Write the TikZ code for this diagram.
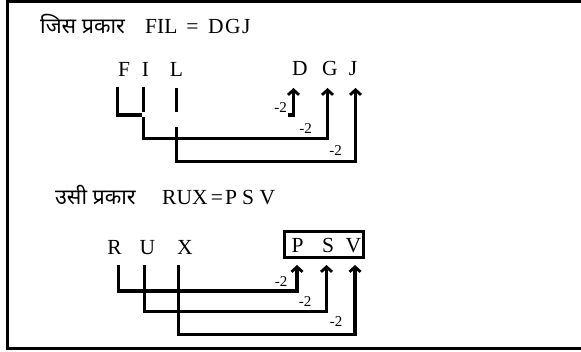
\documentclass[tikz,border=0pt]{standalone}
\usepackage{fontspec}
\setmainfont{Liberation Serif}
\newfontfamily\deva[Script=Devanagari]{Noto Sans}
\usetikzlibrary{arrows.meta}
\begin{document}
\begin{tikzpicture}[x=1pt,y=-1pt,
  conn/.style={line width=3.2pt, line cap=butt, line join=miter},
  arr/.style={conn, -{Straight Barb[length=5pt,width=11pt,line width=2.8pt]}},
  lett/.style={font=\fontsize{21.5}{21.5}\selectfont, inner sep=0pt, anchor=base},
  lbl/.style={font=\fontsize{15}{15}\selectfont, inner sep=0pt},
  ttl/.style={font=\fontsize{21.5}{21.5}\selectfont, inner sep=0pt, anchor=base west},
  dttl/.style={font=\deva\fontsize{21.5}{21.5}\selectfont, inner sep=0pt, anchor=base west},
]
\path[use as bounding box] (0,0) rectangle (581,352);
\coordinate (c1) at (581,1.5);
\coordinate (c2) at (7.5,1.5);
\coordinate (c3) at (7.5,348.5);
\coordinate (c4) at (581,348.5);
\draw[line width=3pt, line join=miter] (c1) -- (c2) -- (c3) -- (c4);

% ---- title 1
\node[dttl] (t1a) at (40,34) {जिस प्रकार};
\node[ttl] (t1b) at (145,34) {FIL};
\node[lett] (t1c) at (192.5,34) {=};
\node[ttl] (t1d) at (208,34) {D\kern1.5pt G\kern1.5pt J};

% ---- row 1 letters
\node[lett] (F) at (124,77) {F};
\node[lett] (I) at (145.5,77) {I};
\node[lett] (L) at (176.5,77) {L};
\node[lett] (D) at (300,75.5) {D};
\node[lett] (G) at (330,75.5) {G};
\node[lett] (J) at (353,75.5) {J};

% row 1 connectors
\coordinate (f1) at (117.5,87);
\coordinate (f2) at (117.5,115);
\coordinate (f3) at (142,115);
\draw[conn] (f1) -- (f2) -- (f3);

\coordinate (i1) at (143.5,87);
\coordinate (i2) at (143.5,112);
\coordinate (i3) at (143.5,117);
\coordinate (g0) at (327.5,138.5);
\coordinate (gt) at (327.5,88);
\draw[conn] (i1) -- (i2);
\draw[arr] (i3) |- (g0) -- (gt);

\coordinate (l1) at (176.5,88);
\coordinate (l2) at (176.5,112);
\coordinate (l3) at (176.5,127);
\coordinate (j0) at (355.5,161.5);
\coordinate (jt) at (355.5,88);
\draw[conn] (l1) -- (l2);
\draw[arr] (l3) |- (j0) -- (jt);

\coordinate (d1) at (288,115);
\coordinate (d0) at (293.5,115);
\coordinate (dt) at (293.5,88);
\draw[arr] (d1) -- (d0) -- (dt);

\node[lbl] (m1) at (280.5,107.5) {-2};
\node[lbl] (m2) at (305.5,129) {-2};
\node[lbl] (m3) at (335.5,151) {-2};

% ---- title 2
\node[dttl] (t2a) at (55,205) {उसी प्रकार};
\node[ttl] (t2b) at (162,205) {RUX};
\node[lett] (t2c) at (217,205) {=};
\node[lett] (t2p) at (231,205) {P};
\node[lett] (t2s) at (248,205) {S};
\node[lett] (t2v) at (267.5,205) {V};

% ---- row 2 letters
\node[lett] (R) at (114.5,255) {R};
\node[lett] (U) at (147.5,255) {U};
\node[lett] (X) at (185,255) {X};
\node[draw, line width=2.7pt, minimum width=79.5pt, minimum height=26.5pt, inner sep=0pt] (box) at (324,244.5) {};
\node[lett] (P) at (297.5,253) {P};
\node[lett] (S) at (328,253) {S};
\node[lett] (V) at (353.5,253) {V};

% row 2 connectors
\coordinate (r1) at (118.5,265);
\coordinate (p0) at (297,291);
\coordinate (pt) at (297,265);
\draw[arr] (r1) |- (p0) -- (pt);

\coordinate (u1) at (144.5,265);
\coordinate (s0) at (326.5,311.5);
\coordinate (st) at (326.5,265);
\draw[arr] (u1) |- (s0) -- (st);

\coordinate (x1) at (178.5,265);
\coordinate (v0) at (355,334.5);
\coordinate (vt) at (355,265);
\draw[arr] (x1) |- (v0) -- (vt);

\node[lbl] (n1) at (281,282) {-2};
\node[lbl] (n2) at (305,302) {-2};
\node[lbl] (n3) at (336,322) {-2};
\end{tikzpicture}
\end{document}
